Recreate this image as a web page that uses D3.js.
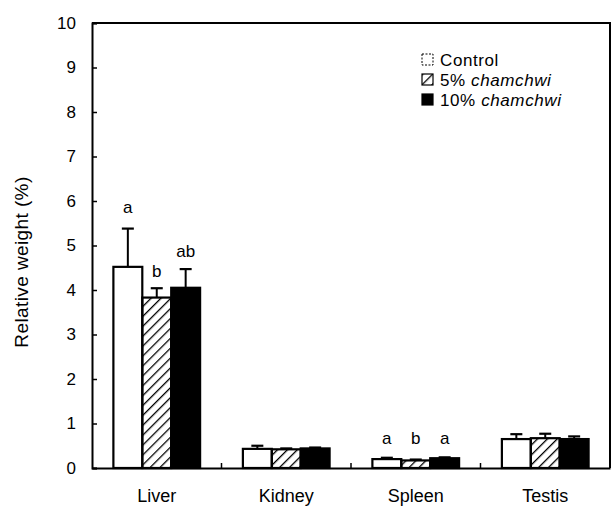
<!DOCTYPE html>
<html>
<head>
<meta charset="utf-8">
<script src="https://cdn.jsdelivr.net/npm/d3@7"></script>
<style>
  body { margin: 0; background: #fff; }
  text { font-family: "Liberation Sans", Arial, sans-serif; fill: #000; }
</style>
</head>
<body>
<div id="chart"></div>
<script>
const organs = ["Liver", "Kidney", "Spleen", "Testis"];
const series = ["Control", "5% chamchwi", "10% chamchwi"];

// mean and upper error (mean + SE)
const control = [4.52, 0.43, 0.20, 0.65];
const controlErr = [5.38, 0.50, 0.23, 0.76];
const low = [3.83, 0.42, 0.17, 0.67];
const lowErr = [4.04, 0.44, 0.19, 0.77];
const high = [4.05, 0.44, 0.22, 0.65];
const highErr = [4.47, 0.46, 0.24, 0.71];

// significance letters and the height they sit at
const letters = [["a", "b", "ab"], ["", "", ""], ["a", "b", "a"], ["", "", ""]];
const letterAt = [[5.72, 4.3, 4.75], [0, 0, 0], [0.54, 0.54, 0.54], [0, 0, 0]];

const yTicks = [0, 1, 2, 3, 4, 5, 6, 7, 8, 9, 10];

const width = 611, height = 506;

const svg = d3.select("#chart").append("svg")
    .attr("width", width)
    .attr("height", height);

const defs = svg.append("defs");
defs.append("pattern")
    .attr("id", "hatch")
    .attr("patternUnits", "userSpaceOnUse")
    .attr("width", 7).attr("height", 7)
    .attr("patternTransform", "rotate(45)")
  .append("line")
    .attr("x1", 0).attr("y1", 0).attr("x2", 0).attr("y2", 7)
    .attr("stroke", "#000").attr("stroke-width", 2.6);

const fills = ["#fff", "url(#hatch)", "#000"];

const x0 = d3.scaleBand().domain(organs).range([92, 610]);
const x1 = d3.scaleBand().domain(series).range([0, x0.bandwidth()])
    .paddingInner(0).paddingOuter(0.74);
const y = d3.scaleLinear().domain([0, 10]).range([468, 23]);

const rows = organs.map((o, i) => ({
  organ: o,
  bars: [
    { s: series[0], v: control[i], e: controlErr[i], t: letters[i][0], ty: letterAt[i][0] },
    { s: series[1], v: low[i], e: lowErr[i], t: letters[i][1], ty: letterAt[i][1] },
    { s: series[2], v: high[i], e: highErr[i], t: letters[i][2], ty: letterAt[i][2] }
  ]
}));

// frame: top and right edges
svg.append("path")
    .attr("d", `M${x0.range()[0]},${y(10)}H${x0.range()[1]}V${y(0)}`)
    .attr("fill", "none").attr("stroke", "#000").attr("stroke-width", 2);

const groups = svg.selectAll("g.organ")
  .data(rows)
  .join("g")
    .attr("class", "organ")
    .attr("transform", d => `translate(${x0(d.organ)},0)`);

// error bars (upper only) go behind the bars
groups.selectAll("g.err")
  .data(d => d.bars)
  .join("g")
    .attr("class", "err")
    .each(function(d) {
      const cx = x1(d.s) + x1.bandwidth() / 2;
      const g = d3.select(this);
      g.append("line")
          .attr("x1", cx).attr("x2", cx)
          .attr("y1", y(d.v)).attr("y2", y(d.e))
          .attr("stroke", "#000").attr("stroke-width", 2);
      g.append("line")
          .attr("x1", cx - 6).attr("x2", cx + 6)
          .attr("y1", y(d.e)).attr("y2", y(d.e))
          .attr("stroke", "#000").attr("stroke-width", 2.2);
    });

groups.selectAll("rect")
  .data(d => d.bars)
  .join("rect")
    .attr("x", d => x1(d.s))
    .attr("y", d => y(d.v))
    .attr("width", x1.bandwidth())
    .attr("height", d => y(0) - y(d.v))
    .attr("fill", (d, i) => fills[i])
    .attr("stroke", "#000")
    .attr("stroke-width", 2.2);

groups.selectAll("text.sig")
  .data(d => d.bars.filter(b => b.t))
  .join("text")
    .attr("class", "sig")
    .attr("x", d => x1(d.s) + x1.bandwidth() / 2)
    .attr("y", d => y(d.ty))
    .attr("text-anchor", "middle")
    .style("font-size", "17px")
    .text(d => d.t);

// y axis, ticks pointing inward
const yAxis = svg.append("g")
    .attr("transform", `translate(${x0.range()[0]},0)`)
    .call(d3.axisLeft(y).tickValues(yTicks).tickSize(-5).tickPadding(16));
yAxis.select(".domain").attr("stroke-width", 2);
yAxis.selectAll(".tick line").attr("stroke-width", 1.5);
yAxis.selectAll(".tick text").style("font-size", "17px").attr("fill", "#000");

// x axis: baseline, ticks at group boundaries
const xAxis = svg.append("g")
    .attr("transform", `translate(0,${y(0)})`)
    .call(d3.axisBottom(x0).tickSize(0).tickPadding(21));
xAxis.select(".domain").attr("stroke-width", 2);
xAxis.selectAll(".tick text").style("font-size", "18px").attr("fill", "#000");
xAxis.selectAll("line.sep")
  .data(organs.slice(1))
  .join("line")
    .attr("class", "sep")
    .attr("x1", d => x0(d)).attr("x2", d => x0(d))
    .attr("y1", 0).attr("y2", -5)
    .attr("stroke", "#000").attr("stroke-width", 1.5);

svg.append("text")
    .attr("transform", `translate(28,262) rotate(-90)`)
    .attr("text-anchor", "middle")
    .style("font-size", "19px")
    .style("letter-spacing", "0.4px")
    .text("Relative weight (%)");

// legend
const legend = svg.append("g").attr("transform", "translate(422,54)");
const item = legend.selectAll("g")
  .data(series)
  .join("g")
    .attr("transform", (d, i) => `translate(0,${i * 20})`);
item.append("rect")
    .attr("width", 11).attr("height", 11)
    .attr("fill", (d, i) => fills[i])
    .attr("stroke", "#000")
    .attr("stroke-width", (d, i) => i === 0 ? 1 : 1.2)
    .attr("stroke-dasharray", (d, i) => i === 0 ? "2,1.5" : null);
const lt = item.append("text")
    .attr("x", 18).attr("y", 12)
    .style("font-size", "17px")
    .style("letter-spacing", "0.6px");
lt.each(function(d) {
  const parts = d.split(" ");
  const t = d3.select(this);
  if (parts.length === 1) { t.text(d); return; }
  t.append("tspan").text(parts[0] + " ");
  t.append("tspan").style("font-style", "italic").text(parts[1]);
});
</script>
</body>
</html>
